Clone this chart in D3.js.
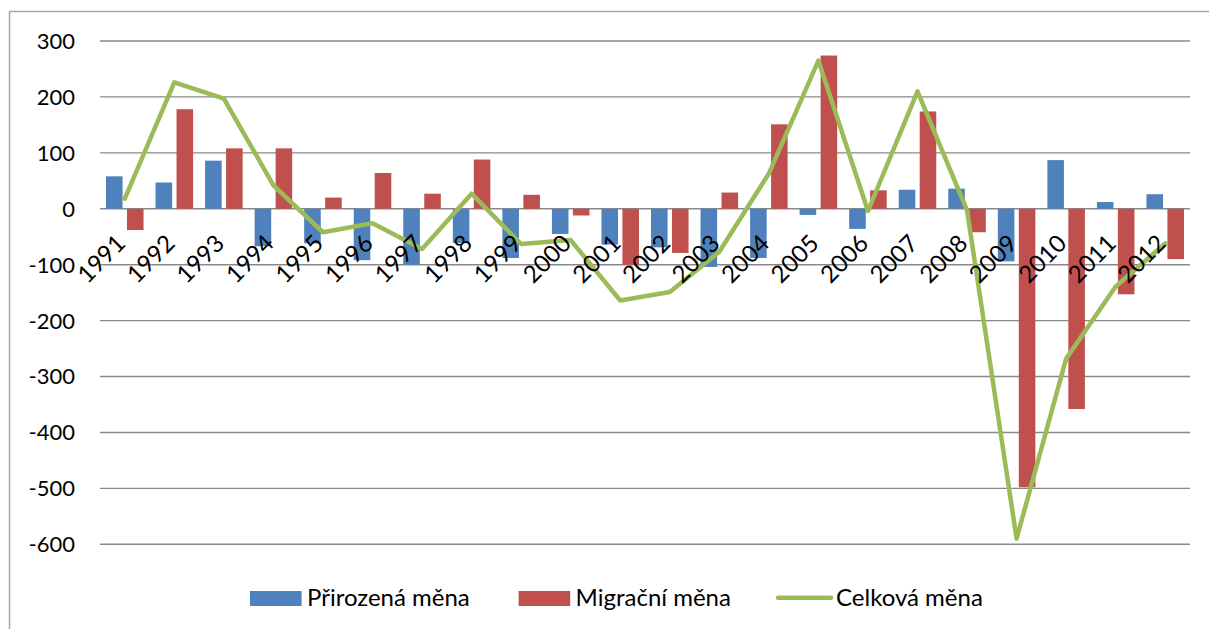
<!DOCTYPE html>
<html lang="cs">
<head>
<meta charset="UTF-8">
<title>Měna</title>
<style>
  body { margin: 0; background: #fff; }
  text { font-family: Lato, "Open Sans", sans-serif; fill: #000; }
</style>
</head>
<body>
<script src="https://d3js.org/d3.v7.min.js"></script>
<script>
  const years = ["1991","1992","1993","1994","1995","1996","1997","1998","1999","2000","2001",
                 "2002","2003","2004","2005","2006","2007","2008","2009","2010","2011","2012"]
  const prirozena = [58, 47, 86, -67, -62, -92, -100, -61, -88, -45, -64,
                     -69, -104, -88, -11, -36, 34, 36, -94, 87, 12, 26]
  const migracni = [-38, 178, 108, 108, 20, 64, 27, 88, 25, -12, -100,
                    -79, 29, 151, 274, 33, 174, -42, -498, -358, -153, -90]
  const celkova = [18, 226, 197, 42, -42, -26, -72, 27, -63, -56, -164,
                   -149, -77, 63, 265, -4, 210, -3, -590, -268, -139, -62]
  const yTicks = [300, 200, 100, 0, -100, -200, -300, -400, -500, -600]
  const seriesNames = ["Přirozená měna", "Migrační měna", "Celková měna"]
  const colors = ["#4F81BD", "#C0504D", "#9BBB59"]

  const width = 1209, height = 629
  const svg = d3.select("body").append("svg")
    .attr("width", width).attr("height", height)

  // outer chart frame (only top and left edges visible)
  svg.append("path")
    .attr("d", "M9.5,629 V11.5 H1209")
    .attr("fill", "none").attr("stroke", "#a6a6a6").attr("stroke-width", 1.5)

  const x = d3.scaleBand().domain(years).range([100, 1190]).padding(0)
  const x1 = d3.scaleBand().domain([0, 1]).range([6, x.bandwidth() - 6]).paddingInner(0.21)
  const y = d3.scaleLinear().domain([-600, 300]).range([544.3, 41])

  // gridlines
  svg.append("g").selectAll("line").data(yTicks).join("line")
    .attr("x1", 100).attr("x2", 1190)
    .attr("y1", d => y(d)).attr("y2", d => y(d))
    .attr("stroke", "#898989").attr("stroke-width", 1.4)

  // y axis labels
  svg.append("g").selectAll("text").data(yTicks).join("text")
    .attr("x", 75).attr("y", d => y(d)).attr("dy", "0.36em")
    .attr("text-anchor", "end").attr("font-size", 22)
    .text(d => d)

  // bars
  const barSeries = [prirozena, migracni]
  barSeries.forEach((vals, s) => {
    svg.append("g").selectAll("rect").data(vals).join("rect")
      .attr("x", (d, i) => x(years[i]) + x1(s))
      .attr("width", x1.bandwidth())
      .attr("y", d => y(Math.max(0, d)))
      .attr("height", d => Math.abs(y(d) - y(0)))
      .attr("fill", colors[s])
  })

  // total line
  const line = d3.line()
    .x((d, i) => x(years[i]) + x.bandwidth() / 2)
    .y(d => y(d))
  svg.append("path").datum(celkova)
    .attr("d", line)
    .attr("fill", "none").attr("stroke", colors[2]).attr("stroke-width", 4.5)
    .attr("stroke-linejoin", "round").attr("stroke-linecap", "round")

  // x labels, rotated (drawn over the series)
  svg.append("g").selectAll("text").data(years).join("text")
    .attr("transform", d => `translate(${x(d) + x.bandwidth() / 2 + 2},245) rotate(-45)`)
    .attr("text-anchor", "end").attr("font-size", 24)
    .text(d => d)

  // legend
  const legend = svg.append("g")
  const legX = [250, 518.6, 778]
  seriesNames.forEach((name, i) => {
    const g = legend.append("g").attr("transform", `translate(${legX[i]},0)`)
    if (i < 2) {
      g.append("rect").attr("x", 0).attr("y", 591).attr("width", 51.6).attr("height", 15)
        .attr("fill", colors[i])
    } else {
      g.append("line").attr("x1", 0).attr("x2", 53).attr("y1", 597.7).attr("y2", 597.7)
        .attr("stroke", colors[i]).attr("stroke-width", 4.5).attr("stroke-linecap", "round")
    }
    g.append("text").attr("x", i < 2 ? 57 : 58).attr("y", 605.5).attr("font-size", 24).text(name)
  })
</script>
</body>
</html>
